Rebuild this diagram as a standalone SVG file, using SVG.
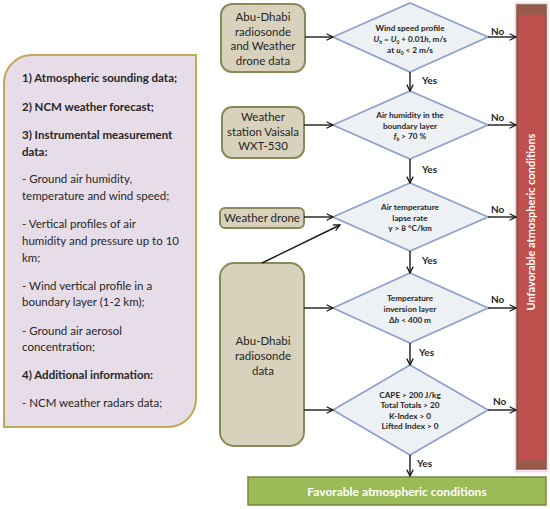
<svg xmlns="http://www.w3.org/2000/svg" width="550" height="509" viewBox="0 0 550 509">
<defs>
<marker id="ah" viewBox="0 0 10 10" refX="9" refY="5" markerWidth="8" markerHeight="8" markerUnits="userSpaceOnUse" orient="auto">
<path d="M1,1 L9,5 L1,9" fill="none" stroke="#1a1a1a" stroke-width="1.6"/>
</marker>
</defs>
<style>
.src{fill:#d8d2bc;stroke:#8a8a58;stroke-width:2}
.dia{fill:#eef1f4;stroke:#8fa2cc;stroke-width:1.8}
.t{font-family:Lato,"Liberation Sans",sans-serif;fill:#262626}
.lt{font-size:11.5px}
.lb{font-size:11.5px;font-weight:bold}
.st{font-size:11.5px;text-anchor:middle}
.dt{font-size:8.2px;font-weight:bold;text-anchor:middle}
.lab{font-size:10px;font-weight:bold}
.con{stroke:#1a1a1a;stroke-width:1.4;fill:none;marker-end:url(#ah)}
</style>
<rect width="550" height="509" fill="#ffffff"/>

<g id="info">
<path d="M32,55 H196 V399 A28,28 0 0 1 168,427 H4 V83 A28,28 0 0 1 32,55 Z" fill="#e6dde9" stroke="#c0aa5a" stroke-width="2"/>
<text class="t lb" x="22" y="82">1) Atmospheric sounding data;</text>
<text class="t lb" x="22" y="111">2) NCM weather forecast;</text>
<text class="t lb" x="22" y="139">3) Instrumental measurement</text>
<text class="t lb" x="22" y="156">data:</text>
<text class="t lt" x="22" y="183">- Ground air humidity,</text>
<text class="t lt" x="22" y="200">temperature and wind speed;</text>
<text class="t lt" x="22" y="228">- Vertical profiles of air</text>
<text class="t lt" x="22" y="245">humidity and pressure up to 10</text>
<text class="t lt" x="22" y="262">km;</text>
<text class="t lt" x="22" y="290">- Wind vertical profile in a</text>
<text class="t lt" x="22" y="306">boundary layer (1-2 km);</text>
<text class="t lt" x="22" y="335">- Ground air aerosol</text>
<text class="t lt" x="22" y="351">concentration;</text>
<text class="t lb" x="22" y="379">4) Additional information:</text>
<text class="t lt" x="22" y="407">- NCM weather radars data;</text>
</g>

<g id="src1">
<rect class="src" x="221" y="4" width="84" height="68" rx="11"/>
<text class="t st" x="263" y="21">Abu-Dhabi</text>
<text class="t st" x="263" y="36">radiosonde</text>
<text class="t st" x="263" y="50">and Weather</text>
<text class="t st" x="263" y="65">drone data</text>
</g>
<g id="src2">
<rect class="src" x="222" y="107" width="82" height="51" rx="10"/>
<text class="t st" x="263" y="121">Weather</text>
<text class="t st" x="263" y="136">station Vaisala</text>
<text class="t st" x="263" y="150">WXT-530</text>
</g>
<g id="src3">
<rect class="src" x="220" y="208" width="84" height="20" rx="5"/>
<text class="t st" x="262" y="222">Weather drone</text>
</g>
<g id="src4">
<rect class="src" x="220" y="263" width="84" height="183" rx="14"/>
<text class="t st" x="263" y="345">Abu-Dhabi</text>
<text class="t st" x="263" y="360">radiosonde</text>
<text class="t st" x="263" y="375">data</text>
</g>

<g id="d1">
<polygon class="dia" points="333,37 410,3 488,37 410,72"/>
<text class="t dt" x="410" y="31">Wind speed profile</text>
<text class="t dt" x="410" y="42"><tspan font-style="italic">U</tspan><tspan font-size="5" dy="1.5">h</tspan><tspan dy="-1.5"> = </tspan><tspan font-style="italic">U</tspan><tspan font-size="5" dy="1.5">0</tspan><tspan dy="-1.5"> + 0.01</tspan><tspan font-style="italic">h</tspan>, m/s</text>
<text class="t dt" x="410" y="53">at <tspan font-style="italic">u</tspan><tspan font-size="5" dy="1.5">0</tspan><tspan dy="-1.5"> &lt; 2 m/s</tspan></text>
</g>
<g id="d2">
<polygon class="dia" points="333,125 410,91 488,125 410,159"/>
<text class="t dt" x="410" y="118">Air humidity in the</text>
<text class="t dt" x="410" y="129">boundary layer</text>
<text class="t dt" x="410" y="139"><tspan font-style="italic">f</tspan><tspan font-size="5" dy="1.5">b</tspan><tspan dy="-1.5"> &gt; 70 %</tspan></text>
</g>
<g id="d3">
<polygon class="dia" points="333,217 410,183 488,217 410,251"/>
<text class="t dt" x="410" y="210">Air temperature</text>
<text class="t dt" x="410" y="221">lapse rate</text>
<text class="t dt" x="410" y="231">γ &gt; 8 °C/km</text>
</g>
<g id="d4">
<polygon class="dia" points="333,308 410,273 488,308 410,343"/>
<text class="t dt" x="410" y="301">Temperature</text>
<text class="t dt" x="410" y="312">inversion layer</text>
<text class="t dt" x="410" y="323">Δ<tspan font-style="italic">h</tspan> &lt; 400 m</text>
</g>
<g id="d5">
<polygon class="dia" points="333,410 410,365 488,410 410,455"/>
<text class="t dt" x="410" y="398">CAPE &gt; 200 J/kg</text>
<text class="t dt" x="410" y="408">Total Totals &gt; 20</text>
<text class="t dt" x="410" y="419">K-Index &gt; 0</text>
<text class="t dt" x="410" y="429">Lifted Index &gt; 0</text>
</g>

<g id="unfav">
<rect x="515.5" y="3.5" width="32" height="468" fill="none" stroke="#f6d6e6" stroke-width="2"/>
<rect x="517" y="5" width="29" height="464" fill="#c0504d" stroke="#7a5848" stroke-width="1.5"/>
<rect x="517.8" y="5.8" width="27.4" height="9" fill="#9a5a4a"/>
<rect x="517.8" y="460" width="27.4" height="8.2" fill="#9a5a4a"/>
<text x="535" y="222" transform="rotate(-90 535 222)" text-anchor="middle" font-family="Lato,'Liberation Sans',sans-serif" font-size="11px" font-weight="bold" fill="#ffffff">Unfavorable atmospheric conditions</text>
</g>
<g id="fav">
<rect x="248" y="477" width="298" height="28" fill="#9bbb59" stroke="#76883f" stroke-width="1.5"/>
<text x="397" y="496" text-anchor="middle" font-family="Lato,'Liberation Sans',sans-serif" font-size="12px" font-weight="bold" fill="#ffffff">Favorable atmospheric conditions</text>
</g>

<g id="connectors">
<line class="con" x1="305" y1="37" x2="333" y2="37"/>
<line class="con" x1="304" y1="125" x2="333" y2="125"/>
<line class="con" x1="304" y1="217" x2="333" y2="217"/>
<line class="con" x1="262" y1="263" x2="340" y2="225"/>
<line class="con" x1="304" y1="308" x2="333" y2="308"/>
<line class="con" x1="304" y1="410" x2="333" y2="410"/>
<line class="con" x1="488" y1="37" x2="516" y2="37"/>
<line class="con" x1="488" y1="125" x2="516" y2="125"/>
<line class="con" x1="488" y1="217" x2="516" y2="217"/>
<line class="con" x1="488" y1="308" x2="516" y2="308"/>
<line class="con" x1="488" y1="410" x2="516" y2="410"/>
<line class="con" x1="410" y1="72" x2="410" y2="91"/>
<line class="con" x1="410" y1="159" x2="410" y2="183"/>
<line class="con" x1="410" y1="251" x2="410" y2="273"/>
<line class="con" x1="410" y1="343" x2="410" y2="365"/>
<line class="con" x1="410" y1="455" x2="410" y2="476"/>
<text class="t lab" x="491" y="35">No</text>
<text class="t lab" x="491" y="121">No</text>
<text class="t lab" x="491" y="213">No</text>
<text class="t lab" x="491" y="303">No</text>
<text class="t lab" x="493" y="405">No</text>
<text class="t lab" x="422" y="84">Yes</text>
<text class="t lab" x="422" y="173">Yes</text>
<text class="t lab" x="422" y="264">Yes</text>
<text class="t lab" x="419" y="356">Yes</text>
<text class="t lab" x="417" y="467">Yes</text>
</g>
</svg>
